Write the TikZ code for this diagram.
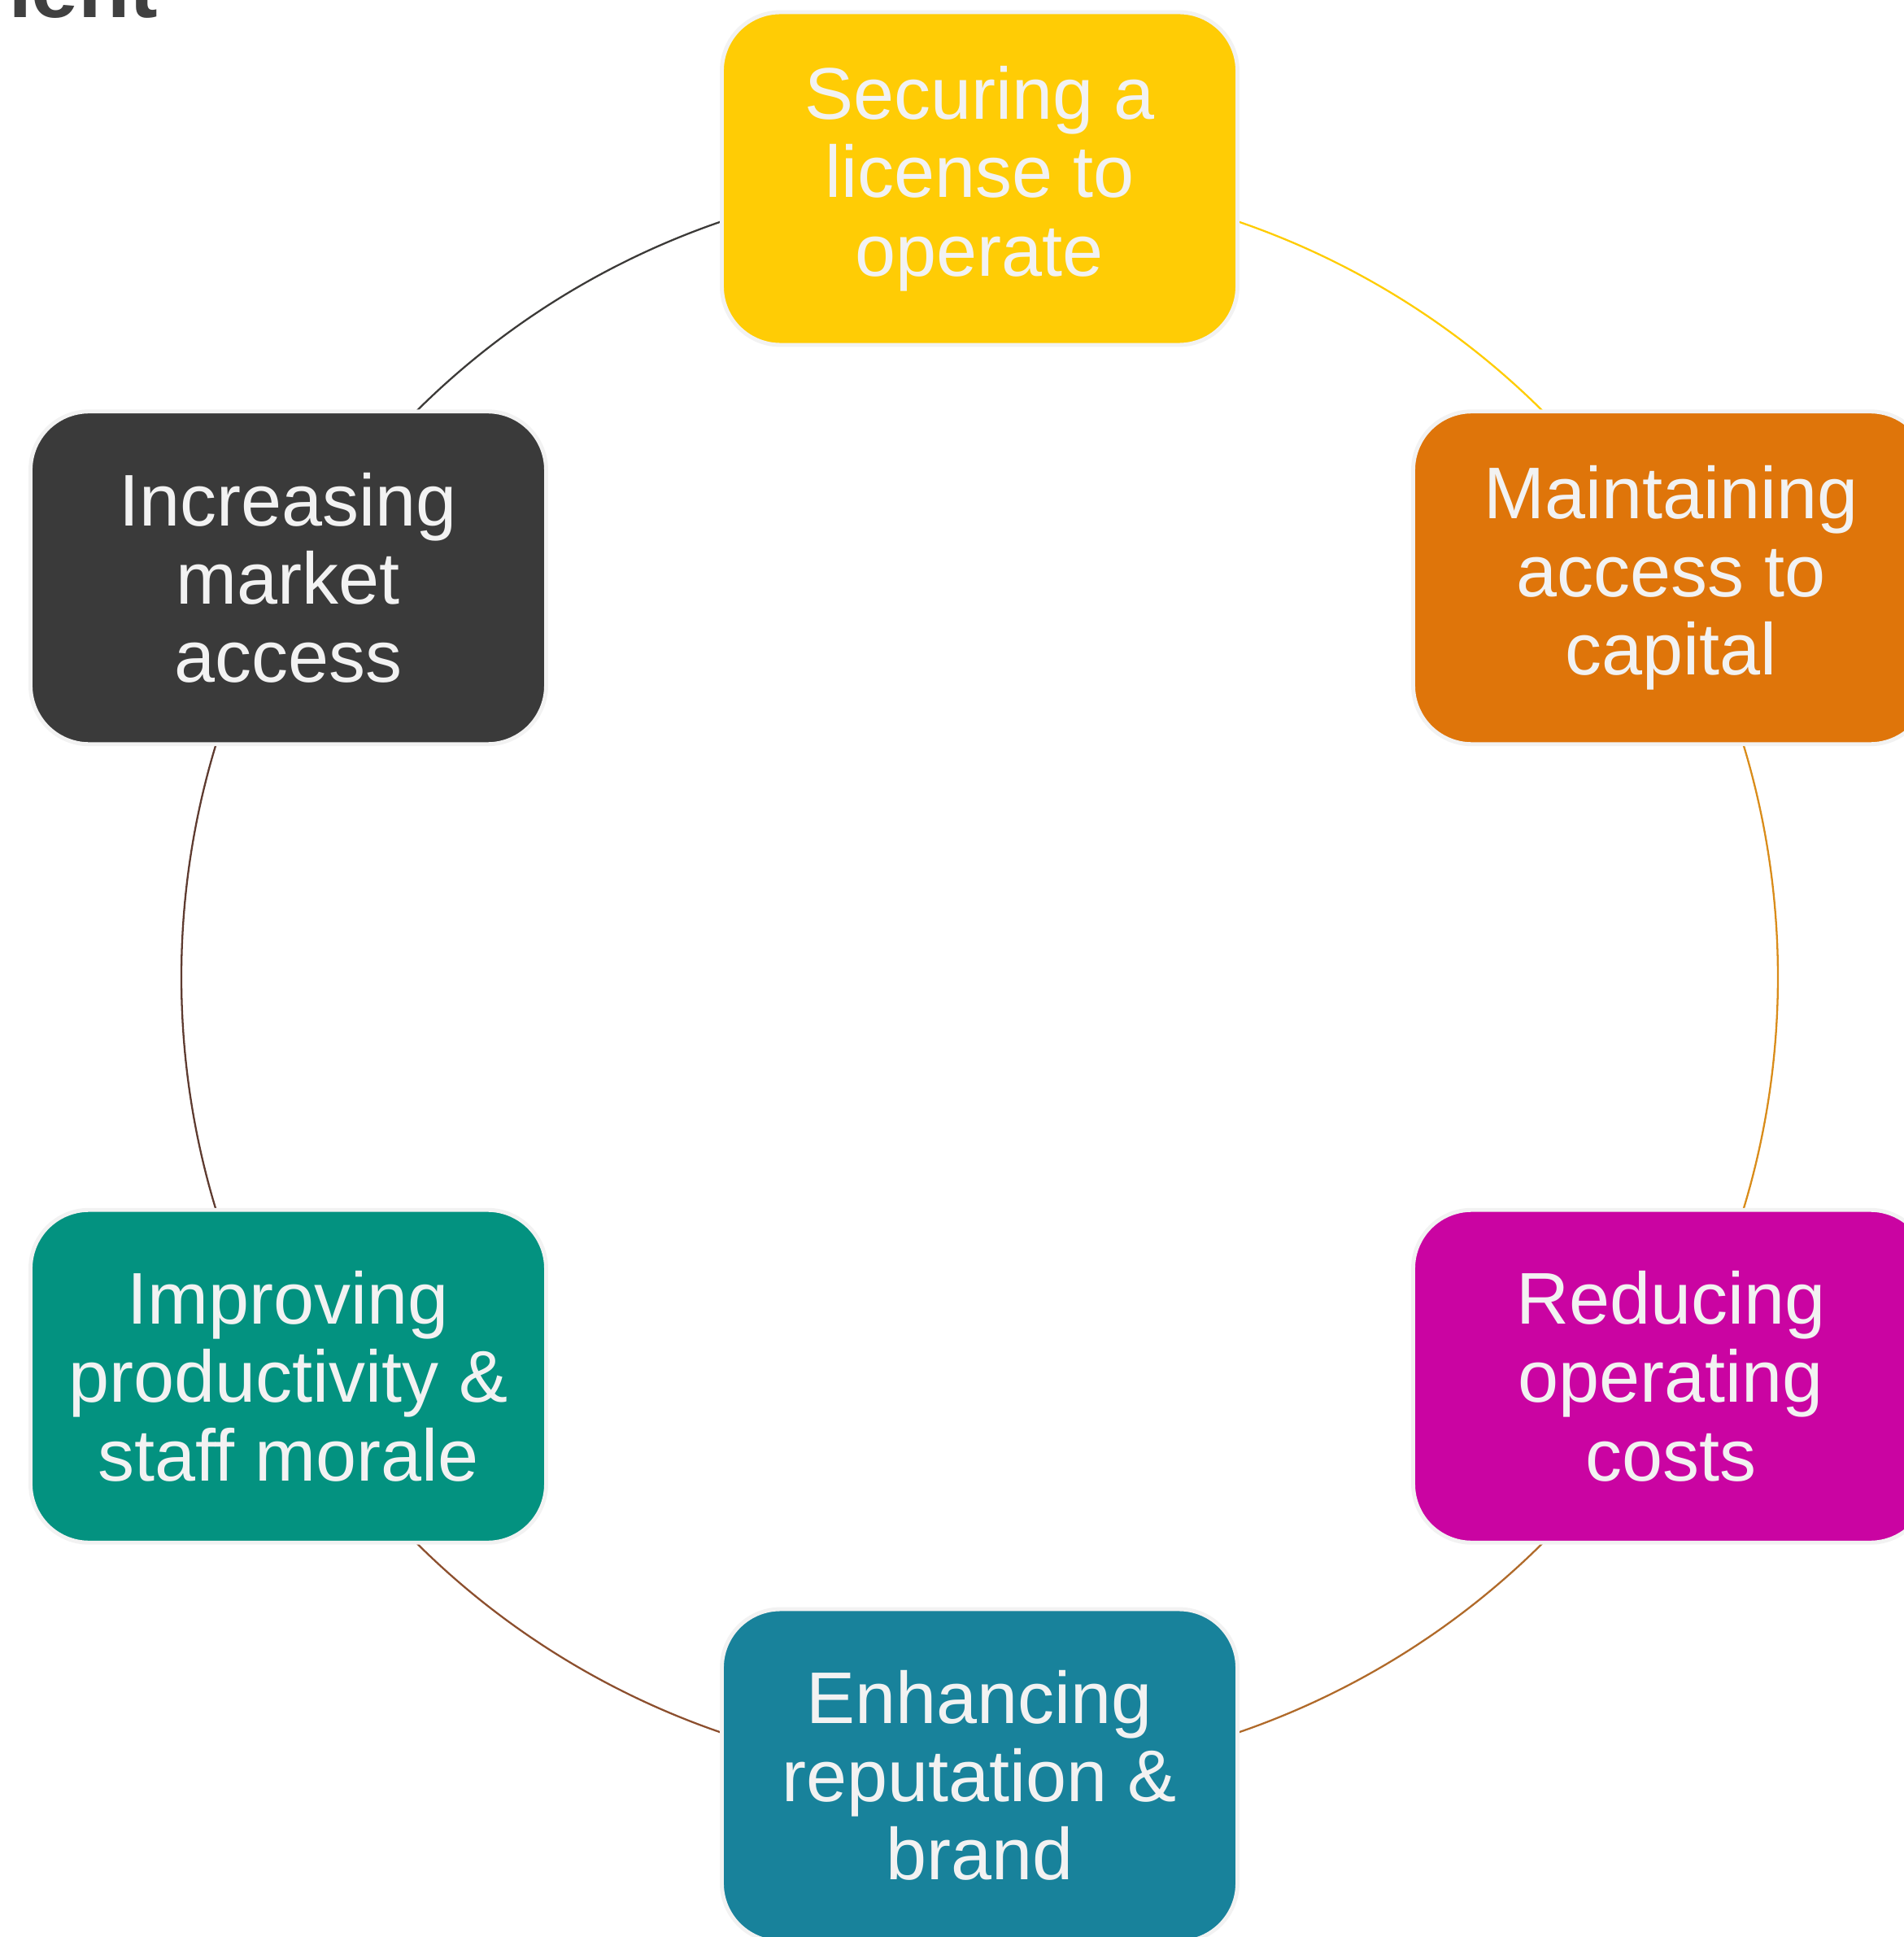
\documentclass[tikz,border=0pt]{standalone}
\usepackage{fontspec}
\setmainfont{Liberation Sans}
\usetikzlibrary{backgrounds}

\definecolor{boxrim}{HTML}{F2F2F2}
\definecolor{licyellow}{HTML}{FFCC05}
\definecolor{caporange}{HTML}{DF750A}
\definecolor{costmagenta}{HTML}{CA04A2}
\definecolor{brandteal}{HTML}{18829B}
\definecolor{staffgreen}{HTML}{039280}
\definecolor{mktdark}{HTML}{3A3A3A}
\definecolor{titlegray}{HTML}{404040}
\definecolor{arcone}{HTML}{FFCC00}
\definecolor{arctwo}{HTML}{D98C1A}
\definecolor{arcthree}{HTML}{B06A2A}
\definecolor{arcfour}{HTML}{8C4F2E}
\definecolor{arcfive}{HTML}{5E3B30}
\definecolor{arcsix}{HTML}{3C3A38}

\tikzset{
  cyclebox/.style={draw=boxrim, line width=1.4pt, rounded corners=0.72cm,
    minimum width=6.34cm, minimum height=4.09cm, align=center,
    text=boxrim, font=\fontsize{25.6}{27.4}\selectfont},
  cyclearc/.style={line width=0.65pt}
}

\begin{document}
\begin{tikzpicture}

\useasboundingbox (-12.045,-11.80) rectangle (11.365,12.01);

\node (ttl) at (-9.98,11.79)[anchor=base east, text=titlegray,
  font=\fontsize{29.5}{31}\selectfont\bfseries]{ment};

\node (lic) at (90:9.815)[cyclebox, fill=licyellow]{Securing a\\license to\\operate};
\node (cap) at (30:9.815)[cyclebox, fill=caporange]{Maintaining\\access to\\capital};
\node (cost) at (-30:9.815)[cyclebox, fill=costmagenta]{Reducing\\operating\\costs};
\node (brand) at (-90:9.815)[cyclebox, fill=brandteal]{Enhancing\\reputation \&\\brand};
\node (staff) at (-150:9.815)[cyclebox, fill=staffgreen]{Improving\\productivity \&\\staff morale};
\node (mkt) at (150:9.815)[cyclebox, fill=mktdark]{Increasing\\market\\access};

\begin{scope}[on background layer]
\draw[cyclearc, arcone](lic.center) arc[start angle=90, end angle=30, radius=9.815];
\draw[cyclearc, arctwo](cap.center) arc[start angle=30, end angle=-30, radius=9.815];
\draw[cyclearc, arcthree](cost.center) arc[start angle=-30, end angle=-90, radius=9.815];
\draw[cyclearc, arcfour](brand.center) arc[start angle=-90, end angle=-150, radius=9.815];
\draw[cyclearc, arcfive](staff.center) arc[start angle=-150, end angle=-210, radius=9.815];
\draw[cyclearc, arcsix](mkt.center) arc[start angle=150, end angle=90, radius=9.815];
\end{scope}

\end{tikzpicture}
\end{document}
